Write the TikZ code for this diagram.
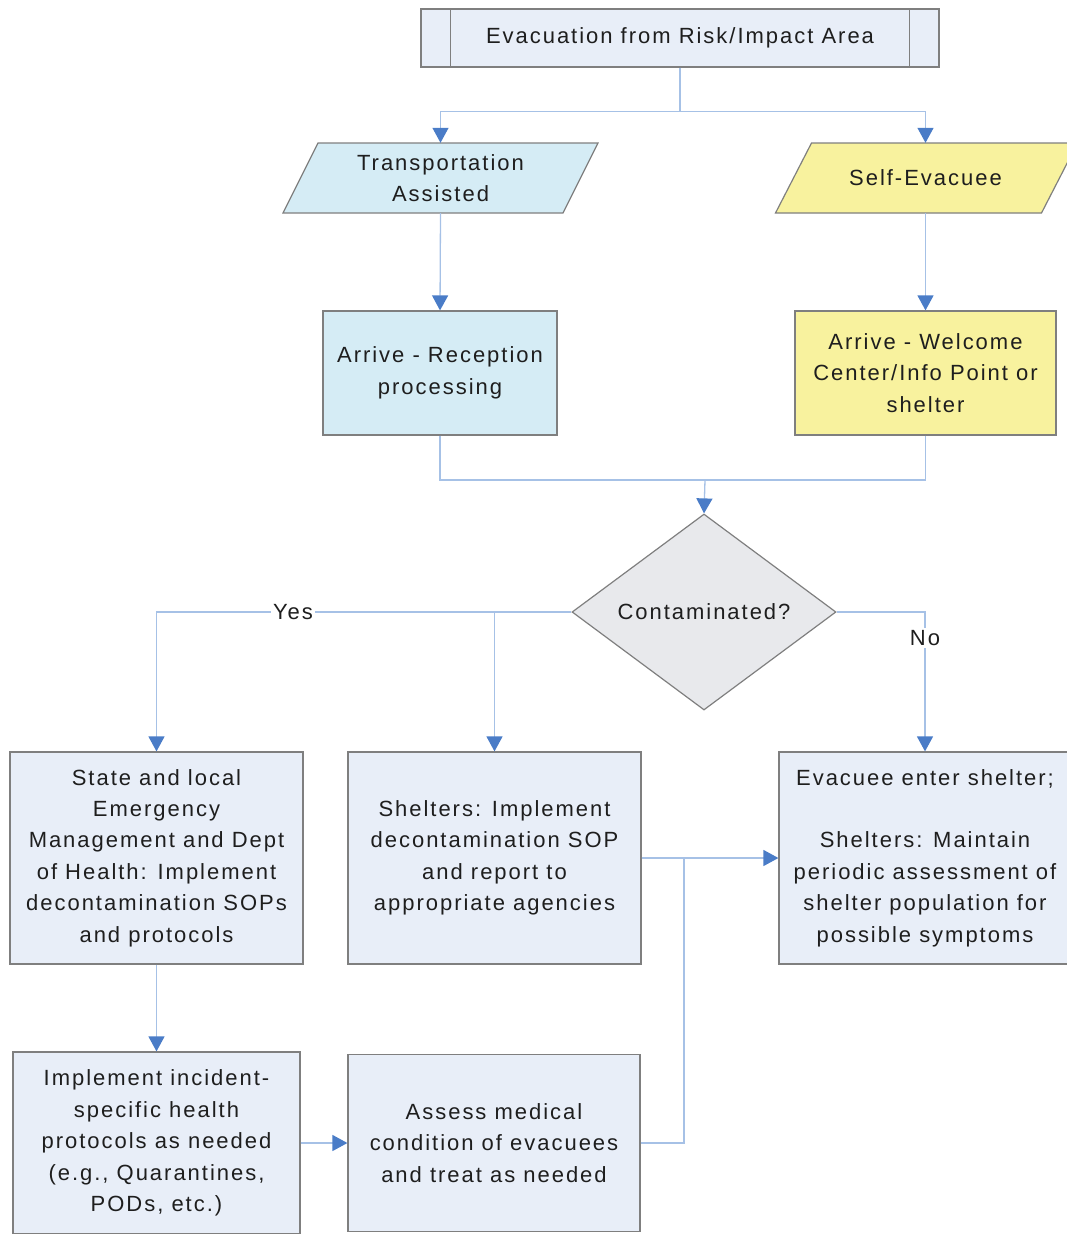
\documentclass[tikz,border=0pt]{standalone}
\usepackage{fontspec}
\setmainfont{Liberation Sans}[LetterSpace=9]
\usepackage{tikz}
\usetikzlibrary{shapes.geometric, arrows.meta}
\definecolor{boxblue}{HTML}{E8EEF8}
\definecolor{cyanfill}{HTML}{D5ECF5}
\definecolor{yellowfill}{HTML}{F8F29E}
\definecolor{greyfill}{HTML}{E8E9EC}
\definecolor{edgegrey}{HTML}{7F7F7F}
\definecolor{linkblue}{HTML}{A6C1E6}
\definecolor{tipblue}{HTML}{4A7CC7}
\definecolor{inkgrey}{HTML}{1E1E1E}
\newcommand\chartfont{\fontsize{22}{31.4}\selectfont}

\begin{document}
\begin{tikzpicture}[x=1pt, y=-1pt, box/.style={draw=edgegrey, line width=1.2pt, fill=boxblue, text=inkgrey, align=center, inner sep=0pt, font=\chartfont}, slant/.style={draw=edgegrey, line width=1.2pt}, para/.style={text=inkgrey, align=center, inner sep=0pt, font=\chartfont, minimum height=70pt}, dec/.style={box, diamond, fill=greyfill, aspect=1.35, minimum width=264pt, minimum height=196pt}, l/.style={draw=linkblue, line width=1.3pt}, n/.style={l, -{Triangle[width=16pt, length=15pt, color=tipblue]}}, lbl/.style={fill=white, text=inkgrey, font=\chartfont, inner sep=2pt}]
                \useasboundingbox (0,0) rectangle (1067,1234);
                % nodes
                \node[box, minimum width=518pt, minimum height=58pt] (evac) at (680,38) {Evacuation from Risk/Impact Area};
                \draw[slant] ([xshift=30pt]evac.north west) -- ([xshift=30pt]evac.south west);
                \draw[slant] ([xshift=-30pt]evac.north east) -- ([xshift=-30pt]evac.south east);
                \draw[slant, fill=cyanfill] (440.5,178) ++(-122.5,-35) -- ++(280,0) -- ++(-35,70) -- ++(-280,0) -- cycle;
                \node[para, minimum width=280pt] (trans) at (440.5,178) {Transportation\\Assisted};
                \draw[slant, fill=yellowfill] (925.5,178) ++(-114,-35) -- ++(266,0) -- ++(-36,70) -- ++(-266,0) -- cycle;
                \node[para, minimum width=266pt] (self) at (925.5,178) {Self-Evacuee};
                \node[box, fill=cyanfill, minimum width=234pt, minimum height=124pt] (recep) at (440,373) {Arrive - Reception\\processing};
                \node[box, fill=yellowfill, minimum width=261pt, minimum height=124pt] (welcome) at (925.5,373) {Arrive - Welcome\\Center/Info Point or\\shelter};
                \node[dec] (contam) at (704,612) {Contaminated?};
                \node[box, minimum width=293pt, minimum height=212pt] (stateem) at (156.5,858) {State and local\\Emergency\\Management and Dept\\of Health: Implement\\decontamination SOPs\\and protocols};
                \node[box, minimum width=293pt, minimum height=212pt] (decon) at (494.5,858) {Shelters: Implement\\decontamination SOP\\and report to\\appropriate agencies};
                \node[box, minimum width=292pt, minimum height=212pt] (enter) at (925,858) {Evacuee enter shelter;\\[31.4pt]Shelters: Maintain\\periodic assessment of\\shelter population for\\possible symptoms};
                \node[box, minimum width=287pt, minimum height=182pt] (incident) at (156.5,1143) {Implement incident-\\specific health\\protocols as needed\\(e.g., Quarantines,\\PODs, etc.)};
                \node[box, minimum width=292pt, minimum height=177pt] (assess) at (494,1143) {Assess medical\\condition of evacuees\\and treat as needed};
                \coordinate (join) at (705,480);
                \coordinate (merge) at (684,858);
                % edges
                \draw [n] (evac.south) -- ++(0,44) -| (trans.north);
                \draw [n] (evac.south) -- ++(0,44) -| (self.north);
                \draw [n] (trans.south) -- (recep.north);
                \draw [n] (self.south) -- (welcome.north);
                \draw [l] (recep.south) |- (join);
                \draw [l] (welcome.south) |- (join);
                \draw [n] (join) -- (contam.north);
                \draw [n] (contam.west) -| (stateem.north);
                \draw [n] (contam.west -| decon.north) -- (decon.north);
                \draw [n] (contam.east) -| (enter.north);
                \draw [n] (stateem.south) -- (incident.north);
                \draw [n] (incident.east) -- (assess.west);
                \draw [l] (assess.east) -| (merge);
                \draw [n] (decon.east) -- (enter.west);
                % labels
                \node[lbl] (yes) at (293,612) {Yes};
                \node[lbl] (no) at (925,638) {No};
            \end{tikzpicture}
\end{document}
